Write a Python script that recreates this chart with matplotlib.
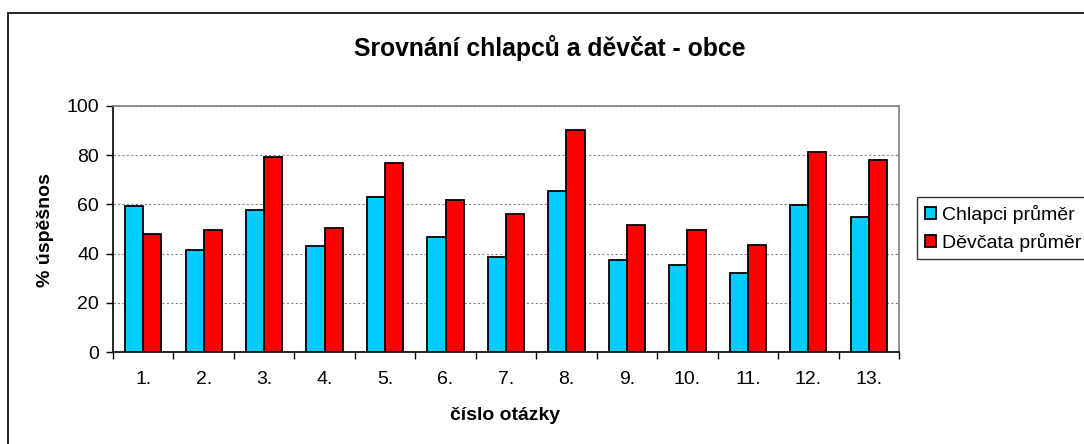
import matplotlib
matplotlib.use("Agg")
import matplotlib.pyplot as plt
import numpy as np
from matplotlib.patches import Rectangle

categories = ["1.", "2.", "3.", "4.", "5.", "6.", "7.", "8.", "9.", "10.", "11.", "12.", "13."]
chlapci = [59.2, 41.6, 57.9, 42.9, 63.0, 46.8, 38.8, 65.4, 37.2, 35.4, 32.2, 59.7, 54.9]
devcata = [47.9, 49.7, 79.2, 50.4, 76.8, 61.8, 55.9, 90.3, 51.6, 49.7, 43.6, 81.5, 77.9]
series_names = ["Chlapci průměr", "Děvčata průměr"]
colors = ["#00CCFF", "#FF0000"]

plt.rcParams['font.family'] = ['Liberation Sans', 'DejaVu Sans']

W, H = 1084, 444
fig = plt.figure(figsize=(W / 100, H / 100), dpi=100)

# outer chart border
fig.patches.append(Rectangle((8 / W, -0.1), 1.2, (H - 13) / H + 0.1, transform=fig.transFigure,
                             fill=False, edgecolor="#000000", linewidth=1.2, zorder=0))

left, right, top, bottom = 113, 899, 106, 352
ax = fig.add_axes([left / W, 1 - bottom / H, (right - left) / W, (bottom - top) / H])

x = np.arange(len(categories))
bw = 0.3
ax.bar(x - bw / 2, chlapci, bw, color=colors[0], edgecolor="black", linewidth=1.3,
       label=series_names[0], zorder=3)
ax.bar(x + bw / 2, devcata, bw, color=colors[1], edgecolor="black", linewidth=1.3,
       label=series_names[1], zorder=3)

ax.set_xlim(-0.5, len(categories) - 0.5)
ax.set_ylim(0, 100)
ax.set_yticks([0, 20, 40, 60, 80, 100])
ax.set_xticks(x)
ax.set_xticklabels(categories, fontsize=14)
ax.set_xticks(np.arange(-0.5, len(categories)), minor=True)
ax.tick_params(axis='x', which='major', length=0, pad=14)
ax.tick_params(axis='x', which='minor', length=5, width=1, direction='out', color='black')
ax.tick_params(axis='y', length=5, width=1, direction='out', labelsize=14, pad=5)

ax.yaxis.grid(True, linestyle=(0, (2, 2)), color="#888888", linewidth=0.8, zorder=0)
ax.set_axisbelow(True)
for s in ['top', 'right']:
    ax.spines[s].set_color("#808080")
    ax.spines[s].set_linewidth(1.2)
for s in ['left', 'bottom']:
    ax.spines[s].set_color("black")
    ax.spines[s].set_linewidth(1.2)

fig.text(550 / W, 1 - 48 / H, "Srovnání chlapců a děvčat - obce",
         ha='center', va='center', fontsize=17.8, fontweight='bold')
fig.text(505 / W, 1 - 415 / H, "číslo otázky",
         ha='center', va='center', fontsize=14, fontweight='bold')
fig.text(45 / W, 1 - 230 / H, "% úspěšnos", rotation=90,
         ha='center', va='center', fontsize=14, fontweight='bold')

leg = fig.legend(loc='upper left', bbox_to_anchor=(917 / W, 1 - 197 / H),
                 bbox_transform=fig.transFigure, fontsize=14, frameon=True,
                 fancybox=False, edgecolor="black", handlelength=0.6, handleheight=0.6,
                 handletextpad=0.3, borderpad=0.4, labelspacing=0.45, borderaxespad=0)
leg.get_frame().set_linewidth(1.0)

fig.savefig("out.png", dpi=100)
